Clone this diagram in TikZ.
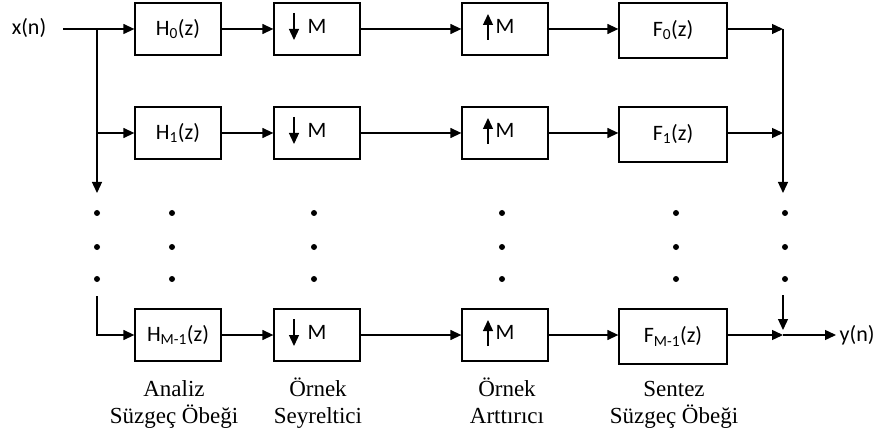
\documentclass[tikz,border=0pt]{standalone}
\usepackage{fontspec}
\setmainfont{Liberation Serif}
\newfontfamily\boxfont{Carlito}
\usetikzlibrary{arrows.meta,calc}
\begin{document}
\begin{tikzpicture}[x=1pt,y=-1pt,
  line width=1.3pt,
  arr/.style={-{Triangle[length=11pt,width=10pt]}},
  blk/.style={draw, line width=1.3pt, minimum width=86pt, minimum height=52pt, inner sep=0pt,
    font=\boxfont\fontsize{22}{25}\selectfont},
  fblk/.style={blk, minimum width=108pt, minimum height=55pt},
  sig/.style={font=\boxfont\fontsize{22}{25}\selectfont, inner sep=0pt},
  lbl/.style={align=center, font=\fontsize{23}{27}\selectfont, inner sep=0pt},
  bdot/.style={circle, fill, inner sep=0pt, minimum size=6pt}
]
\useasboundingbox (0,0) rectangle (877,438);

% row 0
\node[blk]  (h0) at (178,29)   {\raisebox{4pt}{H\textsubscript{0}(z)}};
\node[blk]  (d0) at (317,29)   {\raisebox{5pt}{M}};
\node[blk]  (u0) at (505,29)   {\raisebox{5pt}{M}};
\node[fblk] (f0) at (673,30.5) {\raisebox{5pt}{F\textsubscript{0}(z)}};
% row 1
\node[blk]  (h1) at (178,133)   {\raisebox{4pt}{H\textsubscript{1}(z)}};
\node[blk]  (d1) at (317,133)   {\raisebox{5pt}{M}};
\node[blk]  (u1) at (505,133)   {\raisebox{5pt}{M}};
\node[fblk] (f1) at (673,134.5) {\raisebox{5pt}{F\textsubscript{1}(z)}};
% row 2
\node[blk]  (h2) at (178,335)   {\raisebox{1pt}{H\textsubscript{M-1}(z)}};
\node[blk]  (d2) at (317,335)   {\raisebox{5pt}{M}};
\node[blk]  (u2) at (505,335)   {\raisebox{5pt}{M}};
\node[fblk] (f2) at (673,336.5) {\raisebox{1pt}{F\textsubscript{M-1}(z)}};

% arrows inside the decimator / expander boxes
\foreach \b in {d0,d1,d2}
  \draw[arr] ($(\b.center)+(-23,-16)$) -- ($(\b.center)+(-23,11)$);
\foreach \b in {u0,u1,u2}
  \draw[arr] ($(\b.center)+(-17,11)$) -- ($(\b.center)+(-17,-15)$);

% input
\node[sig] (xn) at (29,28) {x(n)};
\coordinate (xin) at (63,29);
\coordinate (b0) at (97,29);
\coordinate (b1) at (97,133);
\coordinate (b2) at (97,193);
\coordinate (b3) at (97,296);
\draw[arr] (xin) -- (h0.west);
\draw[arr] (b0) -- (b2);
\draw[arr] (b1) -- (h1.west);
\draw[arr] (b3) |- (h2.west);

% chains
\foreach \r in {0,1,2}{
  \draw[arr] (h\r.east) -- (d\r.west);
  \draw[arr] (d\r.east) -- (u\r.west);
  \draw[arr] (u\r.east) -- (u\r.east -| f\r.west);
}

% output side
\coordinate (r0) at (783,29);
\coordinate (r1) at (783,133);
\coordinate (r2) at (783,193);
\coordinate (r3) at (783,295);
\coordinate (r4) at (783,330);
\coordinate (r5) at (783,335);
\coordinate (yend) at (836,335);
\draw[arr] (f0.east |- r0) -- (r0);
\draw (r0) -- (r1);
\draw[arr] (r1) -- (r2);
\draw[arr] (f1.east |- r1) -- (r1);
\draw[arr] (r3) -- (r4);
\draw[arr] (f2.east |- r5) -- (r5);
\draw[arr] (r5) -- (yend);
\node[sig, anchor=west] (yn) at (839,335) {y(n)};

% dots
\foreach \x/\n in {97/a,172/b,314/c,502/d,676/e,785/f}
  \foreach \y/\m in {213/1,247/2,279/3}
    \node[bdot] (dot\n\m) at (\x,\y) {};

% captions
\node[lbl] (la) at (174,404) {Analiz\\Süzgeç Öbeği};
\node[lbl] (lb) at (318,403) {Örnek\\Seyreltici};
\node[lbl] (lc) at (507,401) {Örnek\\Arttırıcı};
\node[lbl] (ld) at (674,405) {Sentez\\Süzgeç Öbeği};
\end{tikzpicture}
\end{document}
